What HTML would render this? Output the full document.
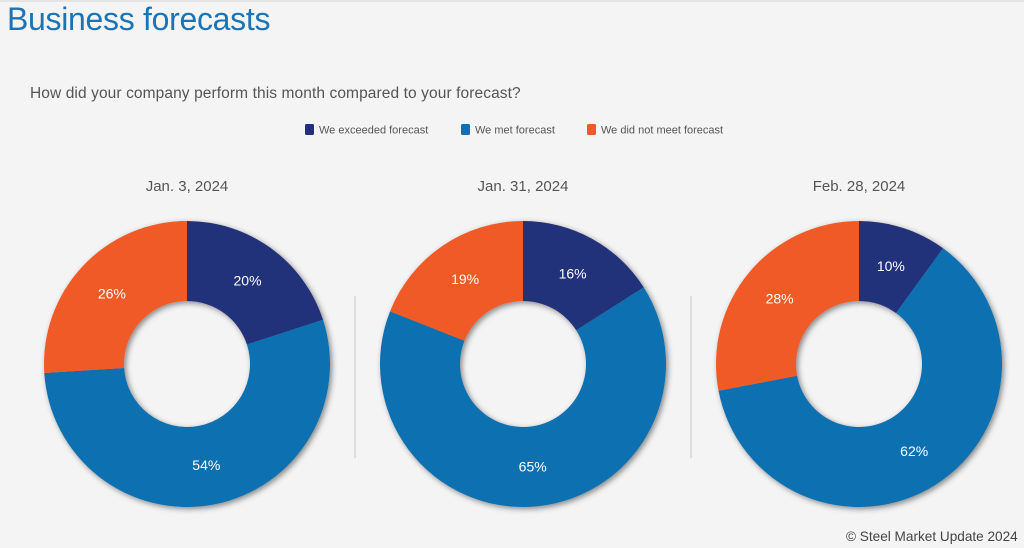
<!DOCTYPE html>
<html><head><meta charset="utf-8"><style>
body{margin:0;width:1024px;height:548px;background:#f4f4f4;font-family:"Liberation Sans",sans-serif;overflow:hidden;position:relative}
.t{position:absolute;white-space:nowrap}
</style></head><body>
<div style="position:absolute;left:0;top:0;width:1024px;height:2px;background:#e4e4e4"></div>
<div class="t" style="left:7px;top:1px;font-size:32px;color:#1a74b6;letter-spacing:-0.3px">Business forecasts</div>
<div class="t" style="left:30px;top:85px;font-size:15.5px;color:#555;letter-spacing:0.1px">How did your company perform this month compared to your forecast?</div>
<svg id="c" width="1024" height="548" style="position:absolute;left:0;top:0">
<defs><filter id="sh" x="-20%" y="-20%" width="140%" height="140%"><feDropShadow dx="2" dy="2" stdDeviation="3" flood-color="#000" flood-opacity="0.45"/></filter></defs>
</svg>
<div class="t" style="left:846px;top:529px;font-size:13.6px;color:#444">© Steel Market Update 2024</div>
<script>
const dates=["Jan. 3, 2024","Jan. 31, 2024","Feb. 28, 2024"];
const seriesNames=["We exceeded forecast","We met forecast","We did not meet forecast"];
const exceeded=[20,16,10];
const met=[54,65,62];
const notMet=[26,19,28];
const colors=["#22307a","#1070b0","#f05a28"];
const svg=document.getElementById('c');const NS="http://www.w3.org/2000/svg";
function mk(t,a){const e=document.createElementNS(NS,t);for(const k in a)e.setAttribute(k,a[k]);svg.appendChild(e);return e;}
const lx=[305,461,587];
seriesNames.forEach((n,i)=>{
 const r=mk('rect',{x:lx[i],y:124,width:9,height:11,rx:1.5,fill:colors[i]});
 
 
 const t=mk('text',{x:lx[i]+14,y:133.5,'font-size':11,fill:'#555'});t.textContent=n;
 
 
});
[355,691].forEach(x=>{const l=mk('line',{x1:x,x2:x,y1:296,y2:458,stroke:'#c8c8c8','stroke-width':1});
 
 });
const cx=[187,523,859],cy=364,R=143,r0=63;
function pt(r,a,c){return [c+r*Math.sin(a),cy-r*Math.cos(a)];}
dates.forEach((d,ci)=>{
 const t=mk('text',{x:cx[ci],y:191,'font-size':15,fill:'#555','text-anchor':'middle'});t.textContent=d;
 
 
 const g=mk('g',{filter:'url(#sh)'});
 
 
 const vals=[exceeded[ci],met[ci],notMet[ci]];const tot=vals.reduce((a,b)=>a+b,0);
 let a0=0;
 vals.forEach((v,i)=>{
  const a1=a0+v/tot*2*Math.PI;const lg=(a1-a0)>Math.PI?1:0;
  const [x1,y1]=pt(R,a0,cx[ci]),[x2,y2]=pt(R,a1,cx[ci]),[x3,y3]=pt(r0,a1,cx[ci]),[x4,y4]=pt(r0,a0,cx[ci]);
  const p=document.createElementNS(NS,'path');
  p.setAttribute('d',`M${x1} ${y1}A${R} ${R} 0 ${lg} 1 ${x2} ${y2}L${x3} ${y3}A${r0} ${r0} 0 ${lg} 0 ${x4} ${y4}Z`);
  p.setAttribute('fill',colors[i]);
  
  
  g.appendChild(p);
  a0=a1;
 });
 a0=0;
 vals.forEach((v,i)=>{
  const a1=a0+v/tot*2*Math.PI;const am=(a0+a1)/2;const [x,y]=pt(103,am,cx[ci]);
  const tl=mk('text',{x:x,y:y+5,'font-size':14,fill:'#fff','text-anchor':'middle'});tl.textContent=v+'%';
  
  
  a0=a1;
 });
});
</script>
</body></html>
